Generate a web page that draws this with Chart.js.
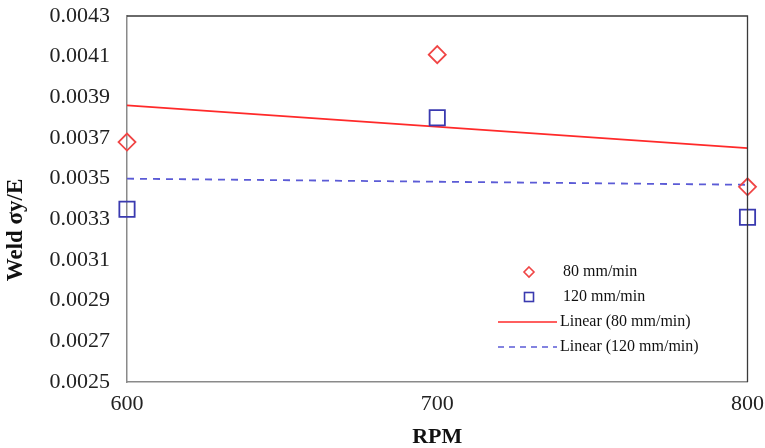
<!DOCTYPE html>
<html>
<head>
<meta charset="utf-8">
<script src="https://cdn.jsdelivr.net/npm/chart.js@4/dist/chart.umd.min.js"></script>
<style>
html,body{margin:0;padding:0;background:#fff;}
#wrap{width:765px;height:448px;position:relative;}
</style>
</head>
<body>
<div id="wrap"><canvas id="c" width="765" height="448"></canvas></div>
<script>
// ---- data ----
const rpm = [600, 700, 800];
const feed80 = [0.00368, 0.00411, 0.00346];
const feed120 = [0.00335, 0.00380, 0.00331];
const trendRpm = [600, 800];
const trend80 = [0.00386, 0.00365];
const trend120 = [0.00350, 0.00347];
const seriesNames = ['80 mm/min', '120 mm/min', 'Linear (80 mm/min)', 'Linear (120 mm/min)'];
const xTitle = 'RPM';
const yTitle = 'Weld σy/E';

const pts = (xs, ys) => xs.map((x, i) => ({x: x, y: ys[i]}));

const RED = '#f04545';
const BLUE = '#3a3ab0';
const RED_LINE = '#ff2a2a';
const BLUE_LINE = '#5b5bd6';
const SERIF = '"Liberation Serif", "Times New Roman", serif';

const framePlugin = {
  id: 'frame',
  afterDraw(chart) {
    const {ctx, chartArea: a} = chart;
    ctx.save();
    ctx.strokeStyle = '#3a3a3a';
    ctx.lineWidth = 1.3;
    ctx.beginPath();
    ctx.moveTo(a.left, a.top);
    ctx.lineTo(a.right, a.top);
    ctx.lineTo(a.right, a.bottom);
    ctx.stroke();
    ctx.fillStyle = '#111';
    ctx.font = 'bold 23px ' + SERIF;
    ctx.textAlign = 'center';
    ctx.textBaseline = 'middle';
    ctx.translate(16, 230);
    ctx.rotate(-Math.PI / 2);
    ctx.fillText(yTitle, 0, 0);
    ctx.restore();

    ctx.save();
    ctx.font = '16px ' + SERIF;
    ctx.textAlign = 'left';
    ctx.textBaseline = 'middle';
    ctx.fillStyle = '#111';
    const rows = [272, 297, 322, 347];
    const mx = 529;
    ctx.strokeStyle = RED; ctx.lineWidth = 1.6;
    ctx.beginPath();
    ctx.moveTo(mx, rows[0] - 5); ctx.lineTo(mx + 5, rows[0]); ctx.lineTo(mx, rows[0] + 5); ctx.lineTo(mx - 5, rows[0]); ctx.closePath();
    ctx.stroke();
    ctx.strokeStyle = BLUE; ctx.lineWidth = 1.6;
    ctx.strokeRect(mx - 4.5, rows[1] - 4.5, 9, 9);
    ctx.strokeStyle = RED_LINE; ctx.lineWidth = 1.6;
    ctx.beginPath(); ctx.moveTo(498, rows[2]); ctx.lineTo(557, rows[2]); ctx.stroke();
    ctx.strokeStyle = BLUE_LINE; ctx.lineWidth = 1.6; ctx.setLineDash([6, 5]);
    ctx.beginPath(); ctx.moveTo(498, rows[3]); ctx.lineTo(557, rows[3]); ctx.stroke();
    ctx.setLineDash([]);
    ctx.fillText(seriesNames[0], 563, rows[0]);
    ctx.fillText(seriesNames[1], 563, rows[1]);
    ctx.fillText(seriesNames[2], 560, rows[2]);
    ctx.fillText(seriesNames[3], 560, rows[3]);
    ctx.restore();
  }
};

new Chart(document.getElementById('c'), {
  type: 'scatter',
  data: {
    datasets: [
      {
        label: seriesNames[2], data: pts(trendRpm, trend80), showLine: true,
        borderColor: RED_LINE, borderWidth: 1.8, pointRadius: 0, order: 3, clip: false
      },
      {
        label: seriesNames[3], data: pts(trendRpm, trend120), showLine: true,
        borderColor: BLUE_LINE, borderWidth: 1.8, borderDash: [7, 6], pointRadius: 0, order: 4, clip: false
      },
      {
        label: seriesNames[0], data: pts(rpm, feed80), pointStyle: 'rectRot',
        pointRadius: 8.5, pointBorderWidth: 1.8, borderColor: RED, backgroundColor: 'rgba(255,255,255,0)',
        pointBackgroundColor: 'rgba(255,255,255,0)', order: 1, clip: false
      },
      {
        label: seriesNames[1], data: pts(rpm, feed120), pointStyle: 'rect',
        pointRadius: 10.8, pointBorderWidth: 1.8, borderColor: BLUE, backgroundColor: 'rgba(255,255,255,0)',
        pointBackgroundColor: 'rgba(255,255,255,0)', order: 2, clip: false
      }
    ]
  },
  options: {
    responsive: false,
    animation: false,
    devicePixelRatio: 1,
    layout: { padding: { left: 0, right: 9, top: 0, bottom: 0 } },
    plugins: { legend: { display: false }, tooltip: { enabled: false } },
    scales: {
      x: {
        type: 'linear', min: 600, max: 800,
        afterBuildTicks(s) { s.ticks = rpm.map(v => ({value: v})); },
        grid: { display: false },
        border: { display: true, color: '#8a8a8a', width: 1.5 },
        ticks: { color: '#222', font: { family: SERIF, size: 22 }, padding: 1, maxRotation: 0 },
        title: { display: true, text: xTitle, color: '#111', font: { family: SERIF, size: 22, weight: 'bold', lineHeight: 1 }, padding: { top: 4, bottom: 0 } },
        afterFit(s) { s.height = 66; }
      },
      y: {
        min: 0.0025, max: 0.0043,
        grid: { display: false },
        border: { display: true, color: '#8a8a8a', width: 1.5 },
        ticks: {
          stepSize: 0.0002, color: '#222', font: { family: SERIF, size: 22 }, padding: 9,
          callback: v => v.toFixed(4)
        },
        afterFit(s) { s.width = 127; s.paddingTop = 16; }
      }
    }
  },
  plugins: [framePlugin]
});
</script>
</body>
</html>
